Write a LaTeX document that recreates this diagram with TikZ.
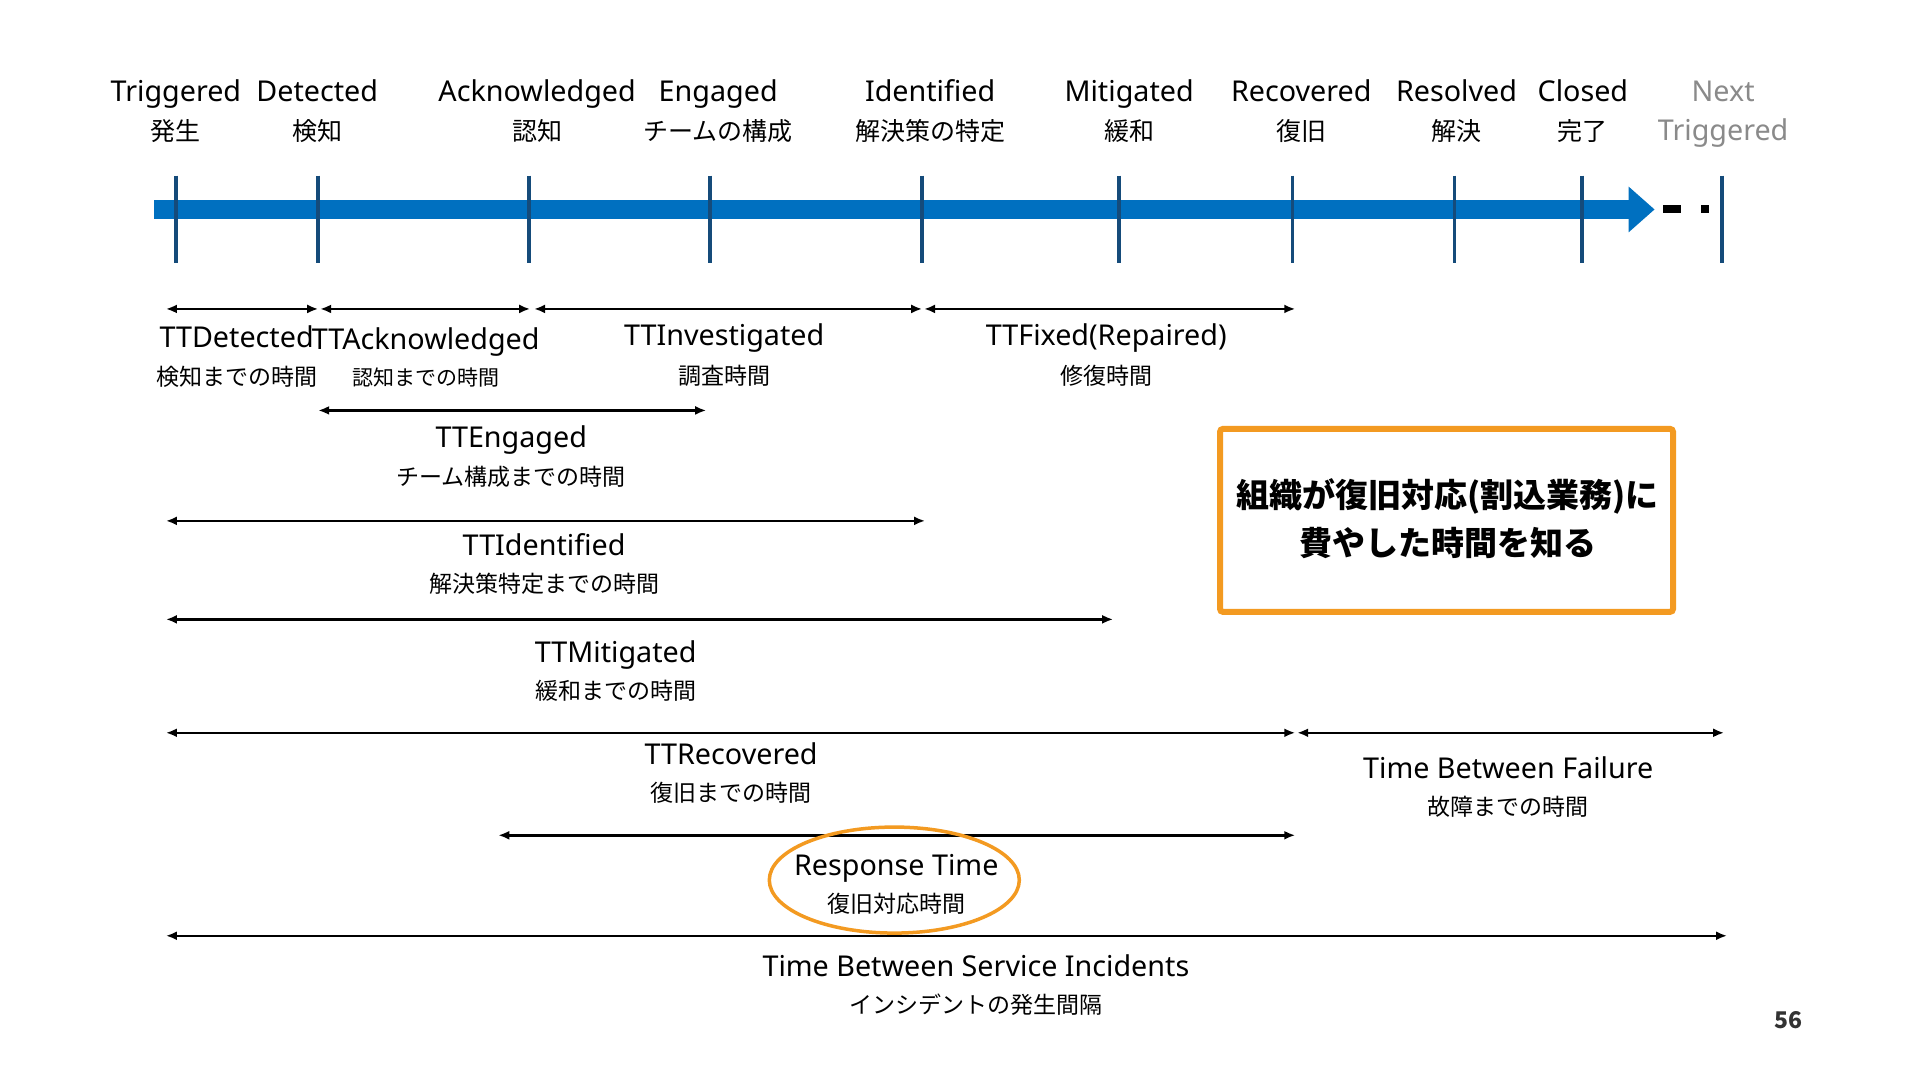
\documentclass[tikz,border=0pt]{standalone}
\usepackage{fontspec}
\setmainfont{Noto Sans}
\newfontfamily\jp{Noto Sans CJK JP}
\usetikzlibrary{arrows.meta,shapes.geometric}
\definecolor{barblue}{HTML}{0070C0}
\definecolor{tickblue}{HTML}{154B7A}
\definecolor{orng}{HTML}{F39A21}
\definecolor{nextgray}{HTML}{8A8A8A}
\tikzset{
  en/.style={font=\fontsize{28.7}{34}\selectfont, anchor=base, inner sep=0pt},
  jpl/.style={font=\jp\fontsize{23}{28}\selectfont, anchor=base, inner sep=0pt},
  jpt/.style={font=\jp\fontsize{25}{30}\selectfont, anchor=base, inner sep=0pt},
  tickline/.style={draw=tickblue, line width=3.5pt},
  rng/.style={draw=black, line width=2.5pt, {Latex[length=11pt,width=9pt]}-{Latex[length=11pt,width=9pt]}},
}
\begin{document}
\begin{tikzpicture}[x=1pt,y=-1pt]
\useasboundingbox[fill=white] (0,0) rectangle (1920,1080);
\begin{scope}[shift={(0.8,0.5)}, scale=0.995]

% timeline bar
\coordinate (barL) at (154,210);
\coordinate (barR) at (1637,210);
\fill[barblue] (154,200) rectangle (1637,220);
\fill[barblue] (1636,187) -- (1662,210) -- (1636,233) -- cycle;
\fill[black] (1671,206) rectangle (1689,214);
\fill[black] (1709,206) rectangle (1717,214);

% ticks
\foreach \n/\x in {t1/176,t2/319,t3/531,t4/713,t5/926,t6/1124,t7/1298,t8/1461,t9/1589,t10/1730}{
  \coordinate (\n top) at (\x,176);
  \coordinate (\n bot) at (\x,264);
  \draw[tickline] (\n top) -- (\n bot);
}

% top labels
\node[en] (l1) at (176,102) {Triggered};
\node[jpt] (j1) at (176,141) {発生};
\node[en] (l2) at (318,102) {Detected};
\node[jpt] (j2) at (318,141) {検知};
\node[en] (l3) at (539,102) {Acknowledged};
\node[jpt] (j3) at (539,141) {認知};
\node[en] (l4) at (721,102) {Engaged};
\node[jpt] (j4) at (721,141) {チームの構成};
\node[en] (l5) at (934,102) {Identified};
\node[jpt] (j5) at (934,141) {解決策の特定};
\node[en] (l6) at (1134,102) {Mitigated};
\node[jpt] (j6) at (1134,141) {緩和};
\node[en] (l7) at (1307,102) {Recovered};
\node[jpt] (j7) at (1307,141) {復旧};
\node[en] (l8) at (1463,102) {Resolved};
\node[jpt] (j8) at (1463,141) {解決};
\node[en] (l9) at (1590,102) {Closed};
\node[jpt] (j9) at (1590,141) {完了};
\node[en, text=nextgray] (l10) at (1731,102) {Next};
\node[en, text=nextgray] (j10) at (1731,141) {Triggered};

% row 1
\coordinate (a1s) at (166,310); \coordinate (a1e) at (319,310);
\coordinate (a2s) at (321,310); \coordinate (a2e) at (532,310);
\coordinate (a3s) at (536,310); \coordinate (a3e) at (926,310);
\coordinate (a4s) at (928,310); \coordinate (a4e) at (1301,310);
\draw[rng] (a1s) -- (a1e);
\draw[rng] (a2s) -- (a2e);
\draw[rng] (a3s) -- (a3e);
\draw[rng] (a4s) -- (a4e);
\node[en] (r1a) at (237,349) {TTDetected};
\node[jpl] (r1b) at (237,387) {検知までの時間};
\node[en] (r2a) at (427,351) {TTAcknowledged};
\node[jpl, font=\jp\fontsize{21}{26}\selectfont] (r2b) at (427,387) {認知までの時間};
\node[en] (r3a) at (727,347) {TTInvestigated};
\node[jpl] (r3b) at (727,386) {調査時間};
\node[en] (r4a) at (1111,347) {TTFixed(Repaired)};
\node[jpl] (r4b) at (1111,386) {修復時間};

% row 2
\coordinate (b1s) at (319,412); \coordinate (b1e) at (709,412);
\draw[rng] (b1s) -- (b1e);
\node[en] (e1a) at (513,449) {TTEngaged};
\node[jpl] (e1b) at (513,487) {チーム構成までの時間};

% row 3
\coordinate (c1s) at (166,523); \coordinate (c1e) at (929,523);
\draw[rng] (c1s) -- (c1e);
\node[en] (i1a) at (546,558) {TTIdentified};
\node[jpl] (i1b) at (546,595) {解決策特定までの時間};

% row 4
\coordinate (d1s) at (166,622); \coordinate (d1e) at (1118,622);
\draw[rng] (d1s) -- (d1e);
\node[en] (m1a) at (618,665) {TTMitigated};
\node[jpl] (m1b) at (618,703) {緩和までの時間};

% row 5
\coordinate (f1s) at (166,736); \coordinate (f1e) at (1301,736);
\coordinate (f2s) at (1303,736); \coordinate (f2e) at (1732,736);
\draw[rng] (f1s) -- (f1e);
\draw[rng] (f2s) -- (f2e);
\node[en] (v1a) at (734,768) {TTRecovered};
\node[jpl] (v1b) at (734,805) {復旧までの時間};
\node[en] (v2a) at (1515,782) {Time Between Failure};
\node[jpl] (v2b) at (1515,819) {故障までの時間};

% row 6
\coordinate (g1s) at (500,839); \coordinate (g1e) at (1301,839);
\draw[rng] (g1s) -- (g1e);
\node[draw=orng, line width=3.5pt, ellipse, minimum width=250pt, minimum height=106pt, inner sep=0pt] (ell) at (898,884) {};
\node[en] (p1a) at (900,879) {Response Time};
\node[jpl] (p1b) at (900,917) {復旧対応時間};

% row 7
\coordinate (h1s) at (166,940); \coordinate (h1e) at (1735,940);
\draw[rng] (h1s) -- (h1e);
\node[en] (s1a) at (980,981) {Time Between Service Incidents};
\node[jpl] (s1b) at (980,1018) {インシデントの発生間隔};

% orange box
\node[draw=orng, line width=6pt, rounded corners=3pt, minimum width=453pt, minimum height=183pt] (box) at (1453,522.5) {};
\node[font=\jp\bfseries\fontsize{33}{40}\selectfont, anchor=base, inner sep=0pt] (bx1) at (1454,510) {組織が復旧対応(割込業務)に};
\node[font=\jp\bfseries\fontsize{33}{40}\selectfont, anchor=base, inner sep=0pt] (bx2) at (1454,558) {費やした時間を知る};

% page number
\node[font=\jp\bfseries\fontsize{23}{28}\selectfont, text=black!80, anchor=base, inner sep=0pt] (pg) at (1797,1033) {56};
\end{scope}
\end{tikzpicture}
\end{document}
